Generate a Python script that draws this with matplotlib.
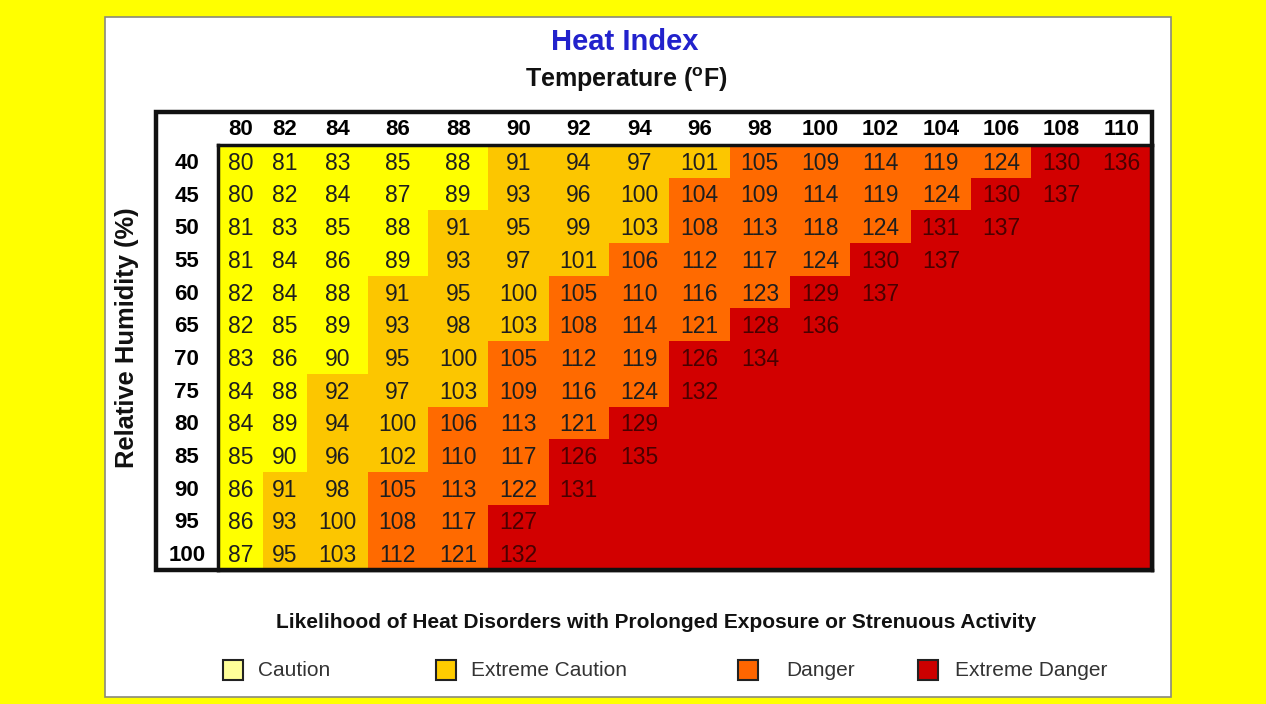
import matplotlib
matplotlib.use("Agg")
import matplotlib.pyplot as plt
from matplotlib.colors import ListedColormap, BoundaryNorm
from matplotlib.patches import Rectangle
import numpy as np

plt.rcParams['font.family'] = ['Liberation Sans', 'DejaVu Sans']

# data
temps = [80, 82, 84, 86, 88, 90, 92, 94, 96, 98, 100, 102, 104, 106, 108, 110]
humidity = [40, 45, 50, 55, 60, 65, 70, 75, 80, 85, 90, 95, 100]
heat_index = [
    [80, 81, 83, 85, 88, 91, 94, 97, 101, 105, 109, 114, 119, 124, 130, 136],
    [80, 82, 84, 87, 89, 93, 96, 100, 104, 109, 114, 119, 124, 130, 137],
    [81, 83, 85, 88, 91, 95, 99, 103, 108, 113, 118, 124, 131, 137],
    [81, 84, 86, 89, 93, 97, 101, 106, 112, 117, 124, 130, 137],
    [82, 84, 88, 91, 95, 100, 105, 110, 116, 123, 129, 137],
    [82, 85, 89, 93, 98, 103, 108, 114, 121, 128, 136],
    [83, 86, 90, 95, 100, 105, 112, 119, 126, 134],
    [84, 88, 92, 97, 103, 109, 116, 124, 132],
    [84, 89, 94, 100, 106, 113, 121, 129],
    [85, 90, 96, 102, 110, 117, 126, 135],
    [86, 91, 98, 105, 113, 122, 131],
    [86, 93, 100, 108, 117, 127],
    [87, 95, 103, 112, 121, 132],
]
categories = ["Caution", "Extreme Caution", "Danger", "Extreme Danger"]
cat_limits = [80, 91, 104, 125]          # lower bound of each category
cell_colors = ["#FFFF00", "#FCC600", "#FF6A00", "#D20000"]
legend_colors = ["#FFFF99", "#FFCC00", "#FF6600", "#CC0000"]

W, H = 1266, 704
fig = plt.figure(figsize=(W / 100, H / 100), dpi=100, facecolor="#FFFF00")


def fx(x):
    return x / W


def fy(y):
    return 1 - y / H


# white panel
fig.patches.append(Rectangle((fx(105), fy(697)), fx(1171) - fx(105), fy(17) - fy(697),
                             transform=fig.transFigure, facecolor="white",
                             edgecolor="#8a8a7a", lw=1.2, zorder=-5))

# table grid (value matrix, blanks = extreme danger)
ncol, nrow = len(temps), len(humidity)
vals = np.full((nrow, ncol), np.nan)
for i, row in enumerate(heat_index):
    vals[i, :len(row)] = row
cat = np.digitize(np.nan_to_num(vals, nan=200), cat_limits) - 1

widths = np.array([0.74, 0.74] + [1.0] * (ncol - 2))
xedges = np.concatenate([[0], np.cumsum(widths)])
xcent = (xedges[:-1] + xedges[1:]) / 2
yedges = np.arange(nrow + 1)

ax = fig.add_axes([fx(218), fy(570), fx(1152) - fx(218), fy(145) - fy(570)])
ax.set_zorder(2)
cmap = ListedColormap(cell_colors)
norm = BoundaryNorm([-0.5, 0.5, 1.5, 2.5, 3.5], cmap.N)
ax.pcolormesh(xedges, yedges, cat, cmap=cmap, norm=norm, shading="flat")
ax.set_xlim(xedges[0], xedges[-1])
ax.set_ylim(nrow, 0)
ax.set_xticks([])
ax.set_yticks([])
for s in ax.spines.values():
    s.set_linewidth(2.5)
    s.set_color("#111111")

for i in range(nrow):
    for j in range(ncol):
        if np.isnan(vals[i, j]):
            continue
        c = "#4a0000" if cat[i, j] == 3 else "#1e1e1e"
        ax.text(xcent[j], i + 0.56, f"{int(vals[i, j])}", ha="center", va="center",
                fontsize=16.5, color=c)

# header row and row labels
label_w = 1.03
head_h = 1.01
for j, t in enumerate(temps):
    ax.text(xcent[j], -head_h / 2 + 0.04, str(t), ha="center", va="center",
            fontsize=16, fontweight="bold", clip_on=False)
for i, h in enumerate(humidity):
    ax.text(-label_w / 2, i + 0.56, str(h), ha="center", va="center",
            fontsize=16, fontweight="bold", clip_on=False)

ax.add_patch(Rectangle((-label_w, -head_h), xedges[-1] + label_w, nrow + head_h,
                       fill=False, lw=3.2, edgecolor="#111111", clip_on=False, zorder=5))

# titles
fig.text(fx(625), fy(42), "Heat Index", ha="center", va="center", fontsize=21,
         fontweight="bold", color="#2222CC")
fig.text(fx(626), fy(80), r"Temperature ($\mathregular{^o}$F)", ha="center", va="center",
         fontsize=18, fontweight="bold", color="#111111")
fig.text(fx(127), fy(338), "Relative Humidity (%)", ha="center", va="center",
         rotation=90, fontsize=18.4, fontweight="bold", color="#111111")
fig.text(fx(656), fy(622),
         "Likelihood of Heat Disorders with Prolonged Exposure or Strenuous Activity",
         ha="center", va="center", fontsize=15, fontweight="bold", color="#111111")

# legend
box_x = [233, 446, 748, 928]
text_x = [258, 471, 786, 955]
for name, col, bx, tx in zip(categories, legend_colors, box_x, text_x):
    fig.patches.append(Rectangle((fx(bx - 10), fy(680)), fx(20), 20 / H,
                                 transform=fig.transFigure, facecolor=col,
                                 edgecolor="#222222", lw=1.5))
    fig.text(fx(tx), fy(670), name, ha="left", va="center", fontsize=15,
             color="#333333")

fig.savefig("out.png", dpi=100, facecolor=fig.get_facecolor())
